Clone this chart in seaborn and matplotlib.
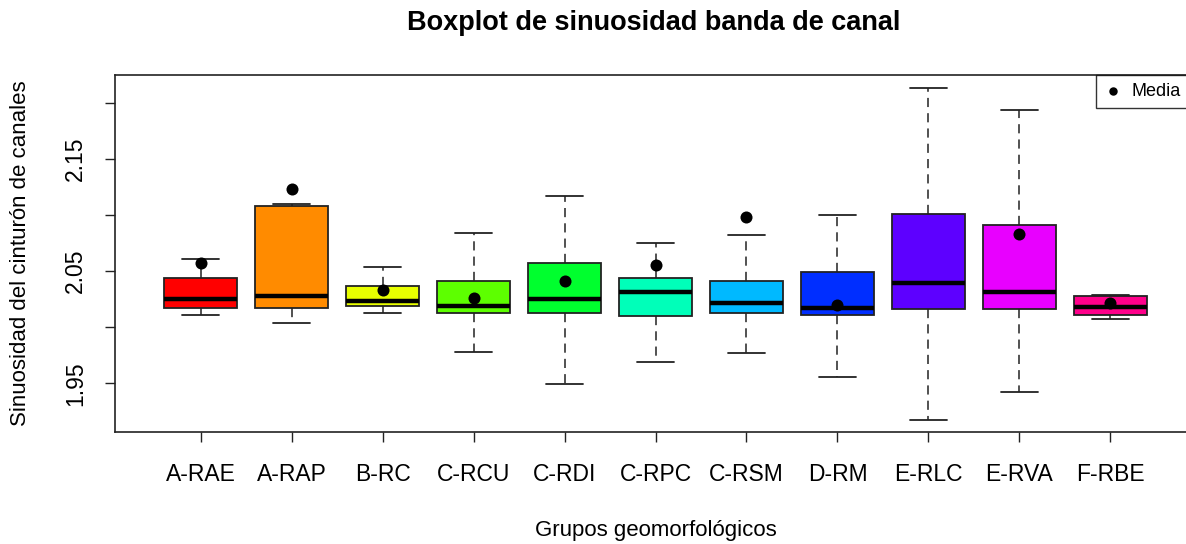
import numpy as np
import matplotlib
matplotlib.use("Agg")
import matplotlib.pyplot as plt
import seaborn as sns

# Datos (estadisticos de cada caja)
groups = ["A-RAE", "A-RAP", "B-RC", "C-RCU", "C-RDI", "C-RPC",
          "C-RSM", "D-RM", "E-RLC", "E-RVA", "F-RBE"]
whislo = [2.011, 2.004, 2.013, 1.978, 1.949, 1.969, 1.977, 1.956, 1.917, 1.942, 2.007]
q1 = [2.017, 2.017, 2.019, 2.013, 2.013, 2.010, 2.013, 2.011, 2.016, 2.016, 2.011]
med = [2.025, 2.028, 2.023, 2.019, 2.025, 2.031, 2.022, 2.017, 2.039, 2.031, 2.018]
q3 = [2.044, 2.108, 2.037, 2.041, 2.057, 2.044, 2.041, 2.049, 2.101, 2.091, 2.028]
whishi = [2.061, 2.110, 2.054, 2.084, 2.117, 2.075, 2.082, 2.100, 2.213, 2.193, 2.029]
means = [2.057, 2.123, 2.033, 2.026, 2.041, 2.055, 2.098, 2.020, np.nan, 2.083, 2.022]

# colores rainbow(11) de R
colors = ["#FF0000", "#FF8B00", "#E8FF00", "#5DFF00", "#00FF2E", "#00FFB9",
          "#00B9FF", "#002EFF", "#5D00FF", "#E800FF", "#FF008B"]

sns.set_style("white")
plt.rcParams["font.family"] = ["Liberation Sans", "DejaVu Sans"]
plt.rcParams["text.color"] = "black"
plt.rcParams["axes.labelcolor"] = "black"
plt.rcParams["xtick.color"] = "black"
plt.rcParams["ytick.color"] = "black"

fig = plt.figure(figsize=(11.86, 5.44), dpi=100)
ax = fig.add_axes([115 / 1186, 1 - 432 / 544, (1196 - 115) / 1186, (432 - 75) / 544])

pos = np.arange(1, len(groups) + 1)
stats = []
for i in range(len(groups)):
    stats.append({"whislo": whislo[i], "q1": q1[i], "med": med[i],
                  "q3": q3[i], "whishi": whishi[i], "fliers": []})

bp = ax.bxp(stats, positions=pos, widths=0.8, patch_artist=True,
            showfliers=False,
            boxprops=dict(edgecolor="#222222", linewidth=1.3),
            medianprops=dict(color="black", linewidth=3.2, solid_capstyle="butt"),
            whiskerprops=dict(color="#222222", linewidth=1.1, linestyle=(0, (6, 4))),
            capprops=dict(color="#222222", linewidth=1.3),
            capwidths=0.4)
for patch, c in zip(bp["boxes"], colors):
    patch.set_facecolor(c)

# medias
sns.scatterplot(x=pos, y=means, ax=ax, color="black", s=75, marker="o",
                edgecolor="black", linewidth=0, zorder=5, label="Media")

ax.set_xlim(0.06, 11.94)
ax.set_ylim(1.9067, 2.2246)
ax.set_xticks(pos)
ax.set_xticklabels(groups, fontsize=16.5)
yt = [1.95, 2.00, 2.05, 2.10, 2.15, 2.20]
ax.set_yticks(yt)
ax.set_yticklabels(["1.95", "", "2.05", "", "2.15", ""], fontsize=16.5,
                   rotation=90, va="center")
ax.tick_params(axis="both", direction="out", length=7, width=1, color="#222222",
               left=True, bottom=True)
ax.tick_params(axis="x", pad=15)
ax.tick_params(axis="y", pad=13)
for s in ax.spines.values():
    s.set_color("#222222")
    s.set_linewidth(1.2)

ax.set_xlabel("Grupos geomorfológicos", fontsize=16, labelpad=25)
ax.set_ylabel("Sinuosidad del cinturón de canales", fontsize=16, labelpad=24)
fig.text(654 / 1186, 1 - 23 / 544, "Boxplot de sinuosidad banda de canal",
         ha="center", va="center", fontsize=19.5, fontweight="bold")

leg = ax.legend(loc="upper left", bbox_to_anchor=(1096 / 1186, 1 - 75 / 544),
                bbox_transform=fig.transFigure, fontsize=13, frameon=True,
                fancybox=False, borderaxespad=0, handletextpad=0.5,
                markerscale=0.7, borderpad=0.45, handlelength=1.0)
leg.get_frame().set_edgecolor("black")
leg.get_frame().set_linewidth(1.0)

fig.savefig("out.png", dpi=100)
